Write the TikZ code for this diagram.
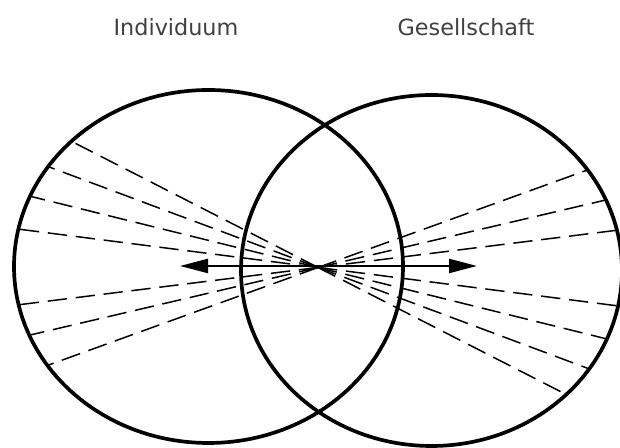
\documentclass[tikz,border=0pt]{standalone}
\usepackage{fontspec}
\setmainfont{DejaVu Sans}
\usetikzlibrary{arrows.meta}
\tikzset{
  kreis/.style={line width=2.1pt},
  strahl/.style={line width=0.85pt, dash pattern=on 11pt off 5pt},
  titel/.style={text=black!75, font=\fontsize{12.7}{15}\selectfont},
  pfeil/.style={line width=1.3pt, {Triangle[length=0.56cm,width=0.28cm]}-{Triangle[length=0.56cm,width=0.28cm]}}
}
\begin{document}
\begin{tikzpicture}
\useasboundingbox (0,0) rectangle (12.4,8.96);
\coordinate (mitte) at (6.36,3.61);
% Strahlen durch die Mitte
\begin{scope}
\clip (4.17,3.63) ellipse [x radius=3.89, y radius=3.53];
\foreach \w in {27.1,20.5,13.9,7.3,-7.1,-13.2,-19.9}
  \draw[strahl] (mitte) -- ++(180-\w:8);
\end{scope}
\begin{scope}
\clip (8.63,3.55) ellipse [x radius=3.81, y radius=3.51];
\foreach \w in {27.1,20.5,13.9,7.3,-7.1,-13.2,-19.9}
  \draw[strahl] (mitte) -- ++(-\w:8);
\end{scope}
% Kreise
\draw[kreis] (4.17,3.63) ellipse [x radius=3.89, y radius=3.53];
\draw[kreis] (8.63,3.55) ellipse [x radius=3.81, y radius=3.51];
% Pfeil
\coordinate (links) at (3.6,3.64);
\coordinate (rechts) at (9.54,3.64);
\draw[pfeil] (links) -- (rechts);
\node[titel] (individuum) at (3.52,8.42) {Individuum};
\node[titel] (gesellschaft) at (9.32,8.42) {Gesellschaft};
\end{tikzpicture}
\end{document}
